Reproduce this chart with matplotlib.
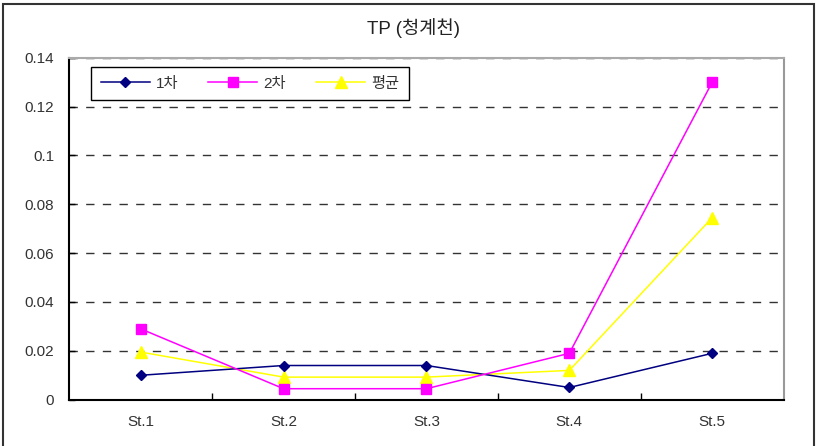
import matplotlib
matplotlib.use("Agg")
import matplotlib.pyplot as plt
from matplotlib.patches import Rectangle

plt.rcParams['font.family'] = ['Liberation Sans', 'Noto Sans CJK KR', 'DejaVu Sans']

# Stations along the stream and TP measurements per survey round
stations = ["St.1", "St.2", "St.3", "St.4", "St.5"]
round1 = [0.010, 0.014, 0.014, 0.005, 0.019]
round2 = [0.029, 0.0045, 0.0045, 0.019, 0.130]
average = [0.0195, 0.00925, 0.00925, 0.012, 0.0745]
y_ticks = [0, 0.02, 0.04, 0.06, 0.08, 0.1, 0.12, 0.14]
y_tick_labels = ["0", "0.02", "0.04", "0.06", "0.08", "0.1", "0.12", "0.14"]
series_names = ["1차", "2차", "평균"]
title = "TP (청계천)"

fig = plt.figure(figsize=(8.17, 4.46), dpi=100)
ax = fig.add_axes([0.0848, 0.1038, 0.8744, 0.7668])

x = list(range(len(stations)))
ax.plot(x, round1, color="#000080", marker="D", markersize=5, linewidth=1.1,
        label=series_names[0], zorder=4)
ax.plot(x, round2, color="#FF00FF", marker="s", markersize=7, linewidth=1.1,
        label=series_names[1], zorder=4)
ax.plot(x, average, color="#FFFF00", marker="^", markersize=8, linewidth=1.1,
        label=series_names[2], zorder=3)

ax.set_xlim(-0.5, len(stations) - 0.5)
ax.set_ylim(0, 0.14)
ax.set_yticks(y_ticks)
ax.set_yticklabels(y_tick_labels)
ax.set_xticks(x)
ax.set_xticklabels(stations)
ax.tick_params(axis="x", length=0, pad=11, labelsize=11, labelcolor="#333333")
ax.tick_params(axis="y", direction="in", length=4, width=1, pad=11,
               labelsize=11, labelcolor="#333333")
# category boundary ticks along the x axis
ax.set_xticks([i + 0.5 for i in x[:-1]], minor=True)
ax.tick_params(axis="x", which="minor", direction="in", length=5, width=1)

# dashed horizontal gridlines
for v in y_ticks[1:]:
    ax.axhline(v, color="#333333", linestyle=(0, (6, 6)), linewidth=1, zorder=1)

ax.spines["left"].set_color("black")
ax.spines["left"].set_linewidth(1.5)
ax.spines["bottom"].set_color("black")
ax.spines["bottom"].set_linewidth(1.5)
ax.spines["right"].set_color("#999999")
ax.spines["right"].set_linewidth(1.5)
ax.spines["top"].set_color("#aaaaaa")
ax.spines["top"].set_linewidth(1.5)

leg = ax.legend(loc="upper left", bbox_to_anchor=(0.030, 0.8787, 0.4456, 0.0953),
                mode="expand", ncol=3, frameon=True, fancybox=False,
                fontsize=11, handlelength=3.2, borderaxespad=0,
                columnspacing=1.0, handletextpad=0.4, borderpad=0.65)
leg.get_frame().set_edgecolor("black")
leg.get_frame().set_linewidth(1.0)
leg.get_frame().set_alpha(1)
for t in leg.get_texts():
    t.set_color("#333333")

fig.text(0.5067, 0.937, title, ha="center", va="center", fontsize=13.5, color="#222222")

# outer chart border
fig.patches.append(Rectangle((3 / 817, -0.02), 811 / 817, (446 - 4) / 446 + 0.02,
                             transform=fig.transFigure, fill=False,
                             edgecolor="#333333", linewidth=1.5))

fig.savefig("out.png", dpi=100)
